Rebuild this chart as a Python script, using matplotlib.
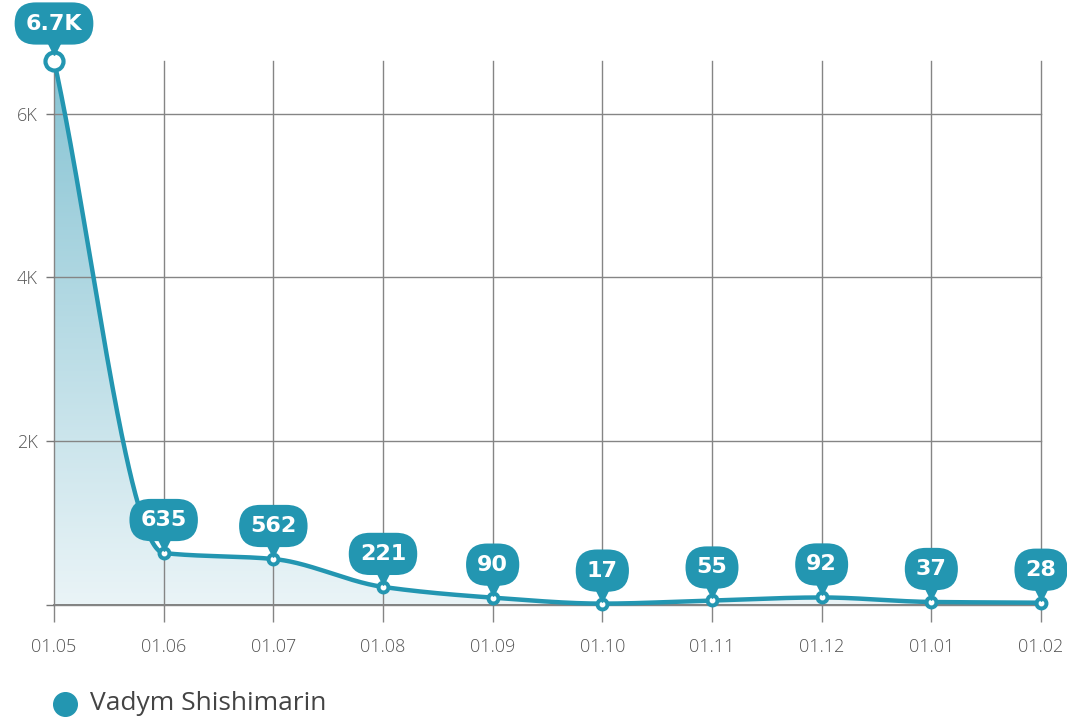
import numpy as np
import matplotlib
matplotlib.use("Agg")
import matplotlib.pyplot as plt
from matplotlib import transforms
from matplotlib.lines import Line2D
from matplotlib.colors import LinearSegmentedColormap

categories = ["01.05", "01.06", "01.07", "01.08", "01.09", "01.10", "01.11", "01.12", "01.01", "01.02"]
values = [6650, 635, 562, 221, 90, 17, 55, 92, 37, 28]
labels = ["6.7K", "635", "562", "221", "90", "17", "55", "92", "37", "28"]
series_name = "Vadym Shishimarin"
ytick_vals = [0, 2000, 4000, 6000]
ytick_labels = ["", "2K", "4K", "6K"]

TEAL = "#2396b1"
FONT = ["Open Sans", "DejaVu Sans"]
LABEL_FONT = ["DejaVu Sans"]


def pchip(x, y, xs):
    x = np.asarray(x, float); y = np.asarray(y, float)
    h = np.diff(x); d = np.diff(y) / h
    n = len(x); m = np.zeros(n)
    for k in range(1, n - 1):
        if d[k - 1] * d[k] > 0:
            w1 = 2 * h[k] + h[k - 1]; w2 = h[k] + 2 * h[k - 1]
            m[k] = (w1 + w2) / (w1 / d[k - 1] + w2 / d[k])
    m[0] = d[0]; m[-1] = d[-1]
    out = np.empty_like(xs)
    for i, xv in enumerate(xs):
        k = min(max(np.searchsorted(x, xv) - 1, 0), n - 2)
        t = (xv - x[k]) / h[k]
        h00 = 2*t**3 - 3*t**2 + 1; h10 = t**3 - 2*t**2 + t
        h01 = -2*t**3 + 3*t**2; h11 = t**3 - t**2
        out[i] = h00*y[k] + h10*h[k]*m[k] + h01*y[k+1] + h11*h[k]*m[k+1]
    return out


fig = plt.figure(figsize=(10.67, 7.22), dpi=100)
ax = fig.add_axes([54/1067, 1 - 605/722, (1041-54)/1067, (605-60.5)/722])

x = np.arange(len(categories))
xs = np.linspace(0, len(categories) - 1, 1200)
ys = pchip(x, values, xs)

ax.set_xlim(0, len(categories) - 1)
ax.set_ylim(0, max(values))

# gradient fill
cmap = LinearSegmentedColormap.from_list("g", ["#eaf4f7", "#86c3d3"])
grad = np.linspace(0, 1, 256).reshape(-1, 1)
im = ax.imshow(grad, aspect="auto", cmap=cmap, origin="lower",
               extent=[0, len(categories) - 1, 0, max(values)], zorder=1)
poly = ax.fill_between(xs, ys, 0, color="none", zorder=1)
path = poly.get_paths()[0]
im.set_clip_path(path, transform=ax.transData)

# grid
ax.set_xticks(x)
ax.set_xticklabels(categories)
ax.set_yticks(ytick_vals)
ax.set_yticklabels(ytick_labels)
ax.grid(True, color="#858585", linewidth=1.0, zorder=2)
for gl in ax.get_xgridlines() + ax.get_ygridlines():
    gl.set_clip_on(False)
ax.set_axisbelow(False)
for s in ax.spines.values():
    s.set_visible(False)
ax.axhline(0, color="#777777", linewidth=1.3, zorder=2, clip_on=False)
ax.tick_params(axis="x", length=12, width=1, color="#858585", pad=12,
               labelsize=13, labelcolor="#555555")
ax.tick_params(axis="y", length=6, width=1, color="#777777", pad=6,
               labelsize=13, labelcolor="#555555")
for t in ax.get_xticklabels() + ax.get_yticklabels():
    t.set_family(FONT)
    t.set_fontweight("light")

# line
ax.plot(xs, ys, color=TEAL, linewidth=3.2, zorder=4, solid_capstyle="round", clip_on=False)

# markers
ax.plot(x[0], values[0], "o", ms=13, mfc="white", mec=TEAL, mew=3, zorder=5, clip_on=False)
ax.plot(x[1:], values[1:], "o", ms=9, mfc=TEAL, mec=TEAL, zorder=5, clip_on=False)
ax.plot(x[1:], values[1:], "o", ms=3.2, mfc="white", mec="white", zorder=6, clip_on=False)

# labels
for i, (xv, yv, lab) in enumerate(zip(x, values, labels)):
    off = 37 if i == 0 else 33
    ax.annotate(lab, (xv, yv), xytext=(0, off), textcoords="offset pixels",
                ha="center", va="center", fontsize=16, fontweight="bold",
                color="white", family=LABEL_FONT, zorder=8, annotation_clip=False,
                bbox=dict(boxstyle="round,pad=0.5,rounding_size=0.95",
                          fc=TEAL, ec="none"))
    tr = ax.transData + transforms.ScaledTranslation(0, (off - 25) / 100, fig.dpi_scale_trans)
    ax.plot(xv, yv, marker="v", ms=8, color=TEAL, transform=tr, zorder=7, clip_on=False)

# legend
fig.add_artist(Line2D([65 / 1067], [1 - 704 / 722], marker="o", ms=17, color=TEAL,
                      linestyle="none", transform=fig.transFigure))
fig.text(90 / 1067, 1 - 704 / 722, series_name, ha="left", va="center",
         fontsize=19, color="#444444", family=FONT)

fig.savefig("out.png", dpi=100)
